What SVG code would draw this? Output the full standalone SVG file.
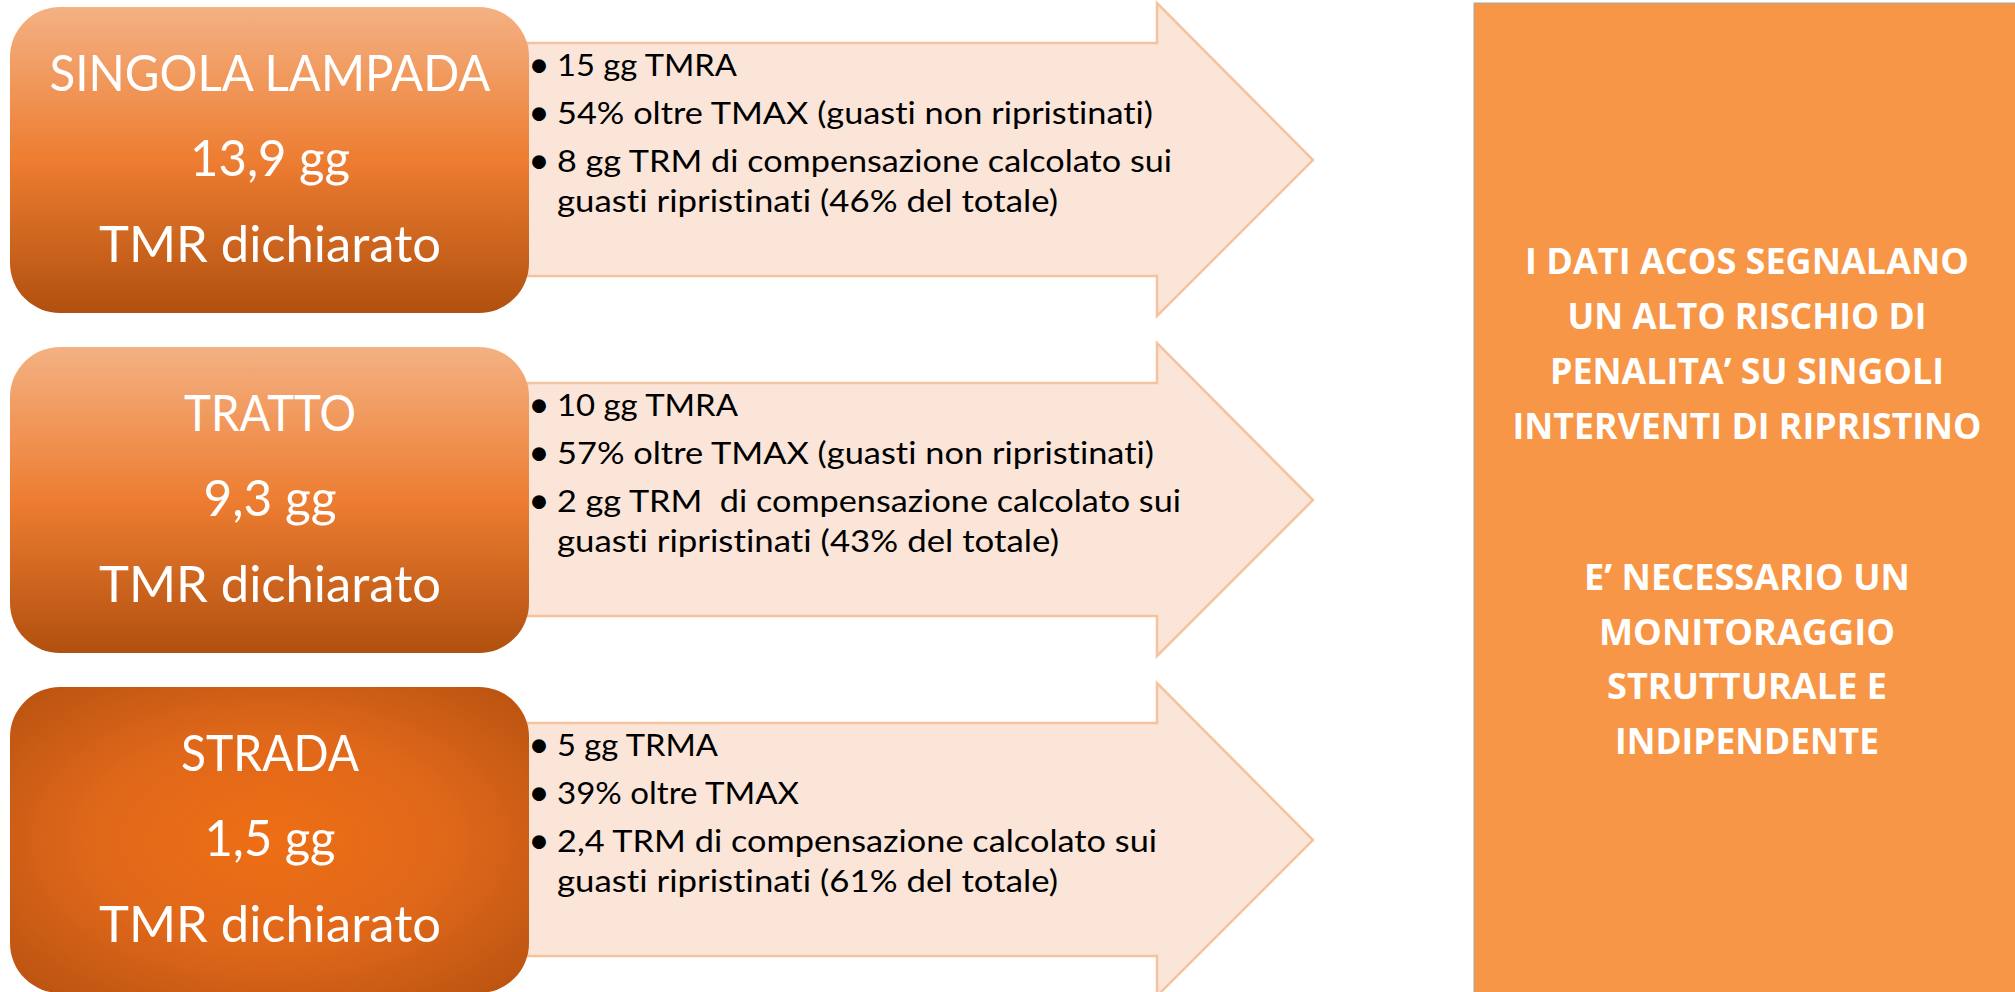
<svg xmlns="http://www.w3.org/2000/svg" width="2015" height="992" viewBox="0 0 2015 992">
<defs>
<linearGradient id="gLin" x1="0" y1="0" x2="0" y2="1">
<stop offset="0" stop-color="#F4B183"/>
<stop offset="0.5" stop-color="#ED7D31"/>
<stop offset="1" stop-color="#B1500F"/>
</linearGradient>
<radialGradient id="gRad" cx="0.5" cy="0.5" r="0.75">
<stop offset="0" stop-color="#EE6E14"/>
<stop offset="0.45" stop-color="#E0681A"/>
<stop offset="1" stop-color="#B24F0F"/>
</radialGradient>
<style>
text{font-variant-ligatures:none}
.arrow{fill:#FAE5D8;stroke:#F5C39E;stroke-width:2.5}
.box{stroke:none}
.bt{font-family:Lato,"Liberation Sans",sans-serif;font-size:50px;fill:#FFFFFF;text-anchor:middle}
.li{font-family:Lato,"Liberation Sans",sans-serif;font-size:31px;fill:#000000}
.bu{font-family:Lato,"Liberation Sans",sans-serif;font-size:37px;fill:#000000;text-anchor:middle}
.pt{font-family:"Open Sans","Liberation Sans",sans-serif;font-weight:bold;font-size:35px;fill:#FFFFFF;text-anchor:middle}
</style>
</defs>
<rect width="2015" height="992" fill="#FFFFFF"/>
<g id="connectors">
<path id="arrow1" class="arrow" d="M527,43 H1157 V3 L1313,160 L1157,316 V276 H527 Z"/>
<path id="arrow2" class="arrow" d="M527,383 H1157 V343 L1313,500 L1157,656 V616 H527 Z"/>
<path id="arrow3" class="arrow" d="M527,723 H1157 V683 L1313,840 L1157,996 V956 H527 Z"/>
</g>
<g id="list1">
<text class="bu" x="539" y="77">•</text><text class="li" x="557" y="76" textLength="180" lengthAdjust="spacingAndGlyphs">15 gg TMRA</text>
<text class="bu" x="539" y="125">•</text><text class="li" x="557" y="124" textLength="596" lengthAdjust="spacingAndGlyphs">54% oltre TMAX (guasti non ripristinati)</text>
<text class="bu" x="539" y="173">•</text><text class="li" x="557" y="172" textLength="615" lengthAdjust="spacingAndGlyphs">8 gg TRM di compensazione calcolato sui</text>
<text class="li" x="557" y="212" textLength="501" lengthAdjust="spacingAndGlyphs">guasti ripristinati (46% del totale)</text>
</g>
<g id="list2">
<text class="bu" x="539" y="417">•</text><text class="li" x="557" y="416" textLength="181" lengthAdjust="spacingAndGlyphs">10 gg TMRA</text>
<text class="bu" x="539" y="465">•</text><text class="li" x="557" y="464" textLength="597" lengthAdjust="spacingAndGlyphs">57% oltre TMAX (guasti non ripristinati)</text>
<text class="bu" x="539" y="513">•</text><text class="li" x="557" y="512" xml:space="preserve" textLength="624" lengthAdjust="spacingAndGlyphs">2 gg TRM  di compensazione calcolato sui</text>
<text class="li" x="557" y="552" textLength="502" lengthAdjust="spacingAndGlyphs">guasti ripristinati (43% del totale)</text>
</g>
<g id="list3">
<text class="bu" x="539" y="757">•</text><text class="li" x="557" y="756" textLength="161" lengthAdjust="spacingAndGlyphs">5 gg TRMA</text>
<text class="bu" x="539" y="805">•</text><text class="li" x="557" y="804" textLength="242" lengthAdjust="spacingAndGlyphs">39% oltre TMAX</text>
<text class="bu" x="539" y="853">•</text><text class="li" x="557" y="852" textLength="600" lengthAdjust="spacingAndGlyphs">2,4 TRM di compensazione calcolato sui</text>
<text class="li" x="557" y="892" textLength="501" lengthAdjust="spacingAndGlyphs">guasti ripristinati (61% del totale)</text>
</g>
<g id="node1">
<rect class="box" x="10" y="7" width="519" height="306" rx="50" fill="url(#gLin)"/>
<text class="bt" x="270" y="91" textLength="441" lengthAdjust="spacingAndGlyphs">SINGOLA LAMPADA</text>
<text class="bt" x="270" y="176" textLength="160" lengthAdjust="spacingAndGlyphs">13,9 gg</text>
<text class="bt" x="270" y="262" textLength="342" lengthAdjust="spacingAndGlyphs">TMR dichiarato</text>
</g>
<g id="node2">
<rect class="box" x="10" y="347" width="519" height="306" rx="50" fill="url(#gLin)"/>
<text class="bt" x="270" y="431" textLength="172" lengthAdjust="spacingAndGlyphs">TRATTO</text>
<text class="bt" x="270" y="516" textLength="133" lengthAdjust="spacingAndGlyphs">9,3 gg</text>
<text class="bt" x="270" y="602" textLength="342" lengthAdjust="spacingAndGlyphs">TMR dichiarato</text>
</g>
<g id="node3">
<rect class="box" x="10" y="687" width="519" height="306" rx="50" fill="url(#gRad)"/>
<text class="bt" x="270" y="771" textLength="178" lengthAdjust="spacingAndGlyphs">STRADA</text>
<text class="bt" x="270" y="856" textLength="131" lengthAdjust="spacingAndGlyphs">1,5 gg</text>
<text class="bt" x="270" y="942" textLength="342" lengthAdjust="spacingAndGlyphs">TMR dichiarato</text>
</g>
<g id="panel">
<rect x="1474" y="3" width="560" height="1000" fill="#F79646" stroke="#A6A6A6" stroke-width="1"/>
<text class="pt" x="1747" y="274" textLength="444" lengthAdjust="spacingAndGlyphs">I DATI ACOS SEGNALANO</text>
<text class="pt" x="1747" y="329" textLength="359" lengthAdjust="spacingAndGlyphs">UN ALTO RISCHIO DI</text>
<text class="pt" x="1747" y="384" textLength="394" lengthAdjust="spacingAndGlyphs">PENALITA’ SU SINGOLI</text>
<text class="pt" x="1747" y="439" textLength="469" lengthAdjust="spacingAndGlyphs">INTERVENTI DI RIPRISTINO</text>
<text class="pt" x="1747" y="590" textLength="326" lengthAdjust="spacingAndGlyphs">E’ NECESSARIO UN</text>
<text class="pt" x="1747" y="645" textLength="296" lengthAdjust="spacingAndGlyphs">MONITORAGGIO</text>
<text class="pt" x="1747" y="699" textLength="280" lengthAdjust="spacingAndGlyphs">STRUTTURALE E</text>
<text class="pt" x="1747" y="754" textLength="264" lengthAdjust="spacingAndGlyphs">INDIPENDENTE</text>
</g>
</svg>
